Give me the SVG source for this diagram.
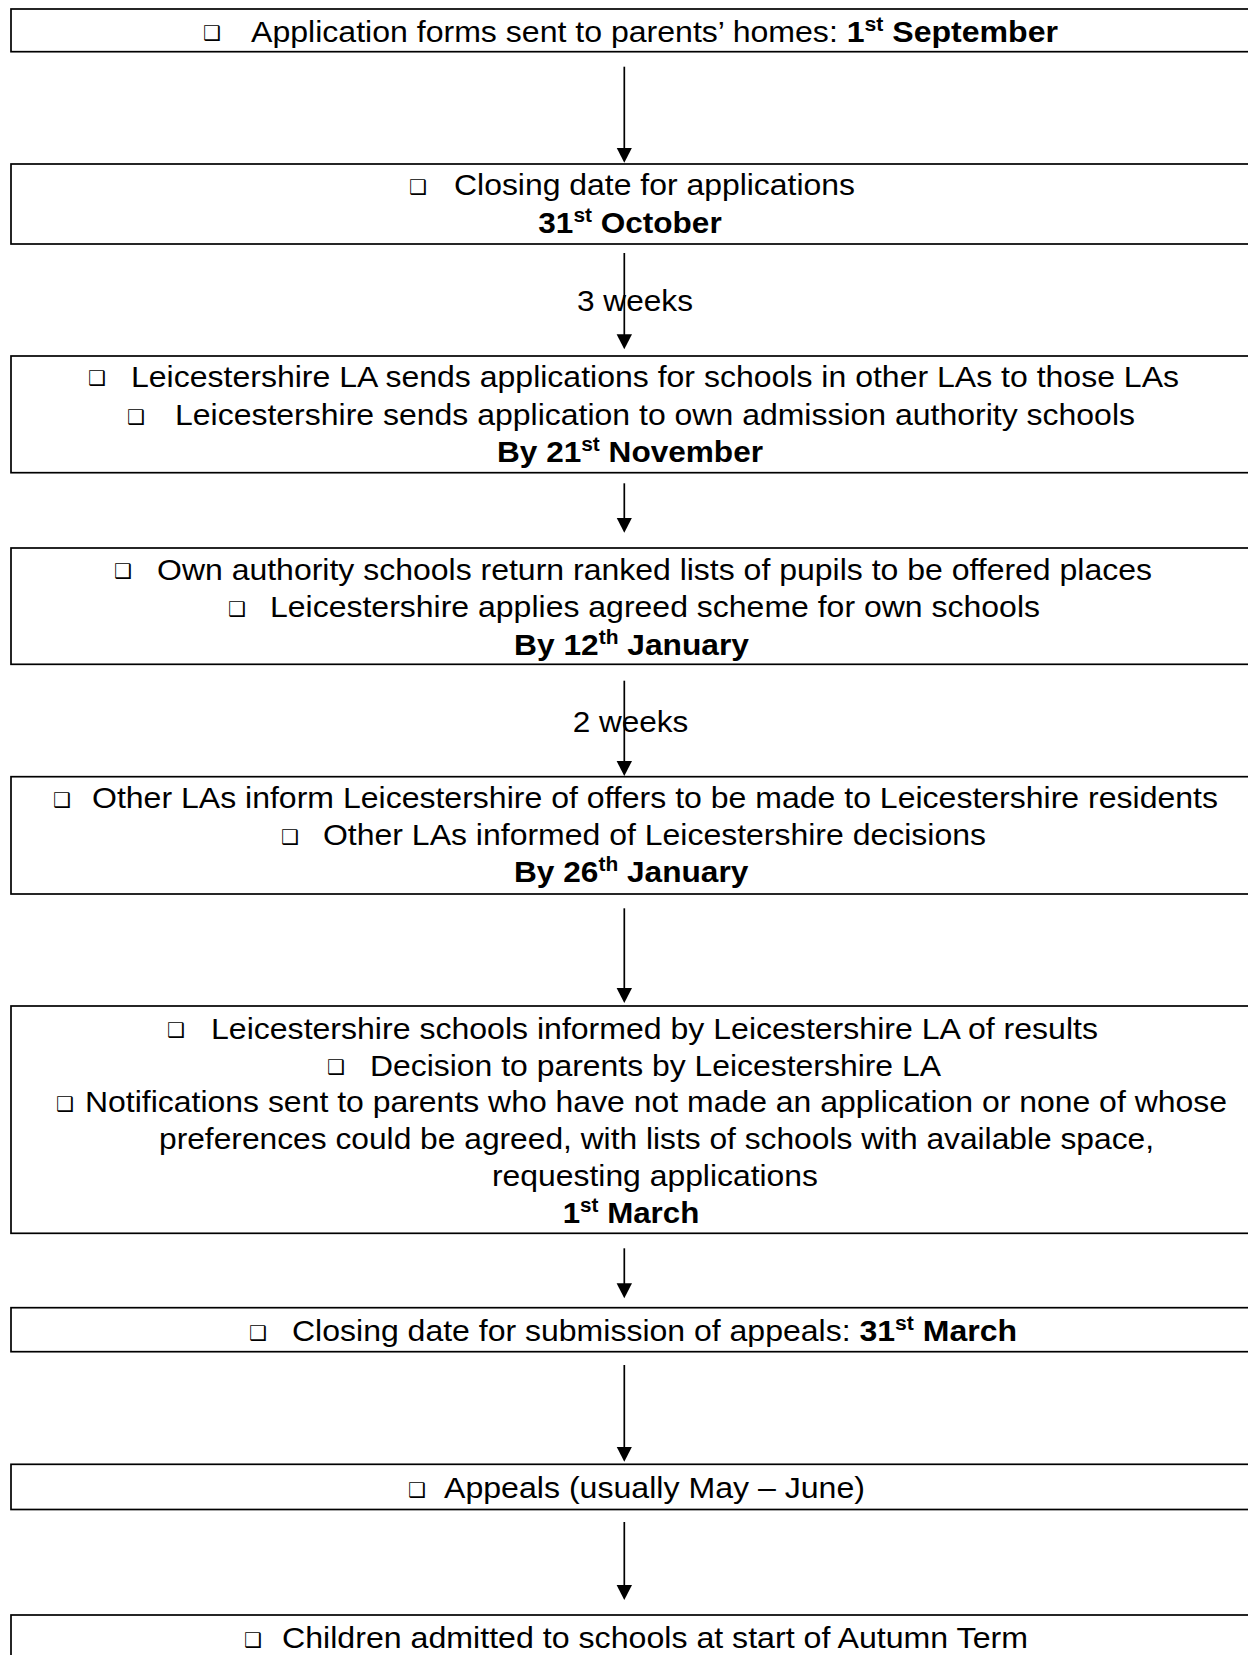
<svg xmlns="http://www.w3.org/2000/svg" width="1248" height="1655" viewBox="0 0 1248 1655">
<defs>
<style>
.box{fill:#fff;stroke:#000;stroke-width:1.7}
.con{stroke:#000;stroke-width:1.7;fill:none}
.t{font-family:"Liberation Sans",Arial,sans-serif;font-size:29.5px;fill:#000}
.b{font-weight:bold}
.sup{font-size:19.5px;font-weight:bold}
.bul{font-family:"DejaVu Sans",sans-serif;font-size:20px;fill:#000}
</style>
<marker id="ah" markerUnits="userSpaceOnUse" markerWidth="16" markerHeight="16" refX="5" refY="7.7" orient="auto">
<path d="M0,0 L15,7.7 L0,15.4 z" fill="#000"/>
</marker>
</defs>
<rect width="1248" height="1655" fill="#fff"/>

<g id="connectors">
<line class="con" x1="624.3" y1="66.7" x2="624.3" y2="152.7" marker-end="url(#ah)"/>
<line class="con" x1="624.3" y1="253" x2="624.3" y2="339.3" marker-end="url(#ah)"/>
<text class="t" x="577" y="310.7" textLength="116" lengthAdjust="spacingAndGlyphs">3 weeks</text>
<line class="con" x1="624.3" y1="483.3" x2="624.3" y2="522.7" marker-end="url(#ah)"/>
<line class="con" x1="624.3" y1="680.7" x2="624.3" y2="766" marker-end="url(#ah)"/>
<text class="t" x="572.7" y="731.7" textLength="115.6" lengthAdjust="spacingAndGlyphs">2 weeks</text>
<line class="con" x1="624.3" y1="908.3" x2="624.3" y2="993" marker-end="url(#ah)"/>
<line class="con" x1="624.3" y1="1248.3" x2="624.3" y2="1288.3" marker-end="url(#ah)"/>
<line class="con" x1="624.3" y1="1365" x2="624.3" y2="1451.7" marker-end="url(#ah)"/>
<line class="con" x1="624.3" y1="1522" x2="624.3" y2="1590" marker-end="url(#ah)"/>
</g>

<g id="n1">
<rect class="box" x="11" y="9" width="1260" height="42.7"/>
<text class="bul" x="203" y="40.2">❑</text>
<text class="t" x="251" y="41.7" textLength="807" lengthAdjust="spacingAndGlyphs">Application forms sent to parents’ homes: <tspan class="b">1</tspan><tspan class="sup" dy="-11">st</tspan><tspan class="b" dy="11"> September</tspan></text>
</g>

<g id="n2">
<rect class="box" x="11" y="164" width="1260" height="80"/>
<text class="bul" x="409" y="193.5">❑</text>
<text class="t" x="454" y="195" textLength="401" lengthAdjust="spacingAndGlyphs">Closing date for applications</text>
<text class="t b" x="538.3" y="233.3" textLength="183.4" lengthAdjust="spacingAndGlyphs">31<tspan class="sup" dy="-11">st</tspan><tspan dy="11"> October</tspan></text>
</g>

<g id="n3">
<rect class="box" x="11" y="356" width="1260" height="116.7"/>
<text class="bul" x="88" y="385.2">❑</text>
<text class="t" x="131" y="386.7" textLength="1048" lengthAdjust="spacingAndGlyphs">Leicestershire LA sends applications for schools in other LAs to those LAs</text>
<text class="bul" x="127" y="423.5">❑</text>
<text class="t" x="175" y="425" textLength="960" lengthAdjust="spacingAndGlyphs">Leicestershire sends application to own admission authority schools</text>
<text class="t b" x="497" y="461.7" textLength="266" lengthAdjust="spacingAndGlyphs">By 21<tspan class="sup" dy="-11">st</tspan><tspan dy="11"> November</tspan></text>
</g>

<g id="n4">
<rect class="box" x="11" y="548" width="1260" height="116.3"/>
<text class="bul" x="114" y="578.1">❑</text>
<text class="t" x="157" y="579.6" textLength="995" lengthAdjust="spacingAndGlyphs">Own authority schools return ranked lists of pupils to be offered places</text>
<text class="bul" x="228" y="615.5">❑</text>
<text class="t" x="270" y="617" textLength="770" lengthAdjust="spacingAndGlyphs">Leicestershire applies agreed scheme for own schools</text>
<text class="t b" x="514" y="655" textLength="235" lengthAdjust="spacingAndGlyphs">By 12<tspan class="sup" dy="-11">th</tspan><tspan dy="11"> January</tspan></text>
</g>

<g id="n5">
<rect class="box" x="11" y="776.7" width="1260" height="117.3"/>
<text class="bul" x="53" y="806.8">❑</text>
<text class="t" x="92" y="808.3" textLength="1126" lengthAdjust="spacingAndGlyphs">Other LAs inform Leicestershire of offers to be made to Leicestershire residents</text>
<text class="bul" x="281" y="843.5">❑</text>
<text class="t" x="323" y="845" textLength="663" lengthAdjust="spacingAndGlyphs">Other LAs informed of Leicestershire decisions</text>
<text class="t b" x="514" y="882.3" textLength="234.3" lengthAdjust="spacingAndGlyphs">By 26<tspan class="sup" dy="-11">th</tspan><tspan dy="11"> January</tspan></text>
</g>

<g id="n6">
<rect class="box" x="11" y="1006" width="1260" height="227.3"/>
<text class="bul" x="167" y="1037.2">❑</text>
<text class="t" x="211" y="1038.7" textLength="887" lengthAdjust="spacingAndGlyphs">Leicestershire schools informed by Leicestershire LA of results</text>
<text class="bul" x="327" y="1074">❑</text>
<text class="t" x="370" y="1075.5" textLength="571" lengthAdjust="spacingAndGlyphs">Decision to parents by Leicestershire LA</text>
<text class="bul" x="56" y="1110.8">❑</text>
<text class="t" x="85" y="1112.3" textLength="1142" lengthAdjust="spacingAndGlyphs">Notifications sent to parents who have not made an application or none of whose</text>
<text class="t" x="159" y="1149" textLength="995" lengthAdjust="spacingAndGlyphs">preferences could be agreed, with lists of schools with available space,</text>
<text class="t" x="492" y="1185.9" textLength="326" lengthAdjust="spacingAndGlyphs">requesting applications</text>
<text class="t b" x="562.7" y="1222.7" textLength="136.6" lengthAdjust="spacingAndGlyphs">1<tspan class="sup" dy="-11">st</tspan><tspan dy="11"> March</tspan></text>
</g>

<g id="n7">
<rect class="box" x="11" y="1307.7" width="1260" height="44"/>
<text class="bul" x="249" y="1339.5">❑</text>
<text class="t" x="292" y="1341" textLength="725" lengthAdjust="spacingAndGlyphs">Closing date for submission of appeals: <tspan class="b">31</tspan><tspan class="sup" dy="-11">st</tspan><tspan class="b" dy="11"> March</tspan></text>
</g>

<g id="n8">
<rect class="box" x="11" y="1464.3" width="1260" height="45.2"/>
<text class="bul" x="408" y="1496.5">❑</text>
<text class="t" x="444" y="1498" textLength="421" lengthAdjust="spacingAndGlyphs">Appeals (usually May – June)</text>
</g>

<g id="n9">
<rect class="box" x="11" y="1615" width="1260" height="60"/>
<text class="bul" x="244" y="1646.5">❑</text>
<text class="t" x="282" y="1648" textLength="746" lengthAdjust="spacingAndGlyphs">Children admitted to schools at start of Autumn Term</text>
</g>
</svg>
